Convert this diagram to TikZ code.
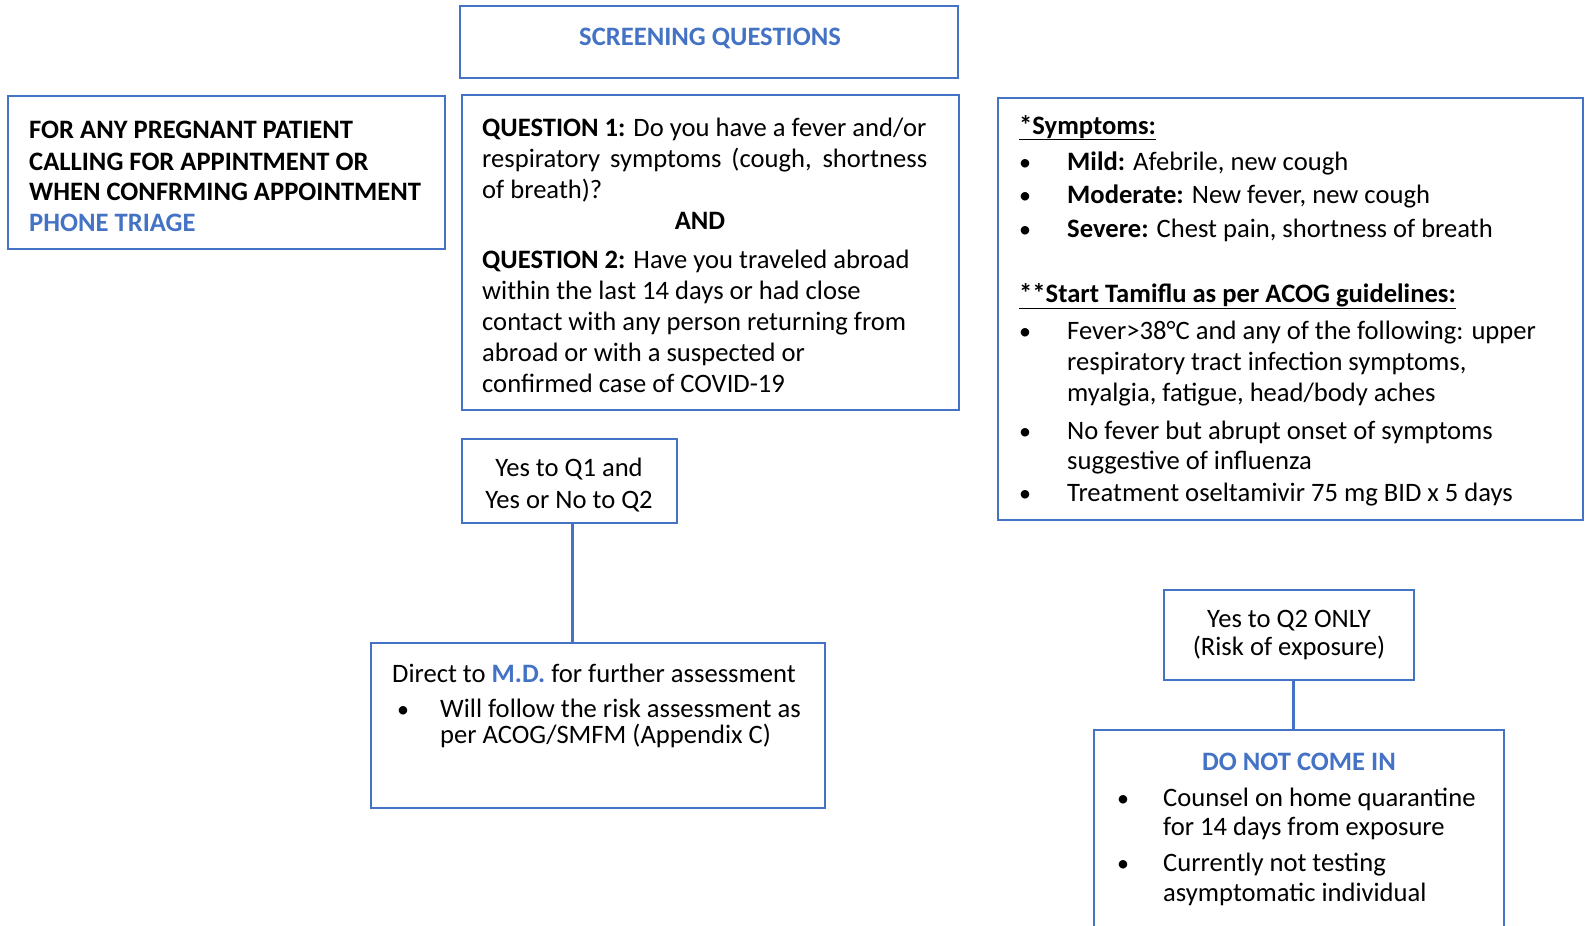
\documentclass[tikz,border=0pt]{standalone}
\usepackage{fontspec}
\setmainfont{Carlito}
\definecolor{obl}{HTML}{4472C4}
\newcommand{\fsz}{\fontsize{26.6}{32}\selectfont}
\newcommand{\bul}{{\fontsize{24}{28}\selectfont •}}
\newcommand{\ul}[1]{\underline{#1}}
\tikzset{
  box/.style={draw=obl, line width=2.6pt, rectangle, inner sep=0pt},
  link/.style={draw=obl, line width=3pt},
  ln/.style={anchor=base west, inner sep=0pt, font=\fsz},
  lc/.style={anchor=base, inner sep=0pt, font=\fsz},
  bt/.style={anchor=base west, inner sep=0pt, font=\fsz\bfseries, text=obl},
}
\begin{document}
\begin{tikzpicture}[x=1pt,y=-1pt]
\useasboundingbox (0,0) rectangle (1585,926);
\clip (0,0) rectangle (1585,926);
% boxes
\node[box, minimum width=498pt, minimum height=72pt] (scr) at (709,42) {};
\node[box, minimum width=437pt, minimum height=153pt] (triage) at (226.5,172.5) {};
\node[box, minimum width=497pt, minimum height=315pt] (qbox) at (710.5,252.5) {};
\node[box, minimum width=585pt, minimum height=422pt] (sym) at (1290.5,309) {};
\node[box, minimum width=215pt, minimum height=84pt] (yq1) at (569.5,481) {};
\node[box, minimum width=454pt, minimum height=165pt] (direct) at (598,725.5) {};
\node[box, minimum width=250pt, minimum height=90pt] (yq2) at (1289,635) {};
\node[box, minimum width=410pt, minimum height=230pt] (donot) at (1299,845) {};
% connectors
\draw[link] ([xshift=2.5pt]yq1.south) -- ([xshift=2.5pt]yq1.south |- direct.north);
\draw[link] ([xshift=4pt]yq2.south) -- ([xshift=4pt]yq2.south |- donot.north);
\begin{scope}[yshift=-2pt]
% screening title
\node[bt, anchor=base] (scrt) at (710,43) {SCREENING QUESTIONS};
% triage
\node[ln, font=\fsz\bfseries] (t1) at (29,136) {FOR ANY PREGNANT PATIENT};
\node[ln, font=\fsz\bfseries] (t2) at (29,168) {CALLING FOR APPINTMENT OR};
\node[ln, font=\fsz\bfseries] (t3) at (29,198) {WHEN CONFRMING APPOINTMENT};
\node[bt] (t4) at (29,229) {PHONE TRIAGE};
% questions
\node[ln] (q1) at (482,134) {\textbf{QUESTION 1:} Do you have a fever and/or};
\node[ln] (q2) at (482,165) {\makebox[445pt][s]{respiratory symptoms (cough, shortness}};
\node[ln] (q3) at (482,196) {of breath)?};
\node[lc, font=\fsz\bfseries] (qand) at (700,227) {AND};
\node[ln] (q4) at (482,266) {\textbf{QUESTION 2:} Have you traveled abroad};
\node[ln] (q5) at (482,297) {within the last 14 days or had close};
\node[ln] (q6) at (482,328) {contact with any person returning from};
\node[ln] (q7) at (482,359) {abroad or with a suspected or};
\node[ln] (q8) at (482,390) {confirmed case of COVID-19};
% symptoms
\node[ln] (s0) at (1019,132) {\textbf{\ul{*Symptoms:}}};
\node[ln] (sb1) at (1019,168) {\bul};
\node[ln] (s1) at (1067,168) {\textbf{Mild:} Afebrile, new cough};
\node[ln] (sb2) at (1019,201) {\bul};
\node[ln] (s2) at (1067,201) {\textbf{Moderate:} New fever, new cough};
\node[ln] (sb3) at (1019,235) {\bul};
\node[ln] (s3) at (1067,235) {\textbf{Severe:} Chest pain, shortness of breath};
\node[ln] (s4) at (1019,300) {\textbf{\ul{**Start Tamiflu as per ACOG guidelines:}}};
\node[ln] (sb5) at (1019,337) {\bul};
\node[ln] (s5) at (1067,337) {Fever>38°C and any of the following: upper};
\node[ln] (s6) at (1067,368) {respiratory tract infection symptoms,};
\node[ln] (s7) at (1067,399) {myalgia, fatigue, head/body aches};
\node[ln] (sb8) at (1019,437) {\bul};
\node[ln] (s8) at (1067,437) {No fever but abrupt onset of symptoms};
\node[ln] (s9) at (1067,467) {suggestive of influenza};
\node[ln] (sb10) at (1019,499) {\bul};
\node[ln] (s10) at (1067,499) {Treatment oseltamivir 75 mg BID x 5 days};
% yes q1
\node[lc] (y1a) at (569,474) {Yes to Q1 and};
\node[lc] (y1b) at (569,506) {Yes or No to Q2};
% direct
\node[ln] (d1) at (392,680) {Direct to \textcolor{obl}{\textbf{M.D.}} for further assessment};
\node[ln] (db1) at (397,715) {\bul};
\node[ln] (d2) at (440,715) {Will follow the risk assessment as};
\node[ln] (d3) at (440,741) {per ACOG/SMFM (Appendix C)};
% yes q2
\node[lc] (y2a) at (1289,625) {Yes to Q2 ONLY};
\node[lc] (y2b) at (1289,653) {(Risk of exposure)};
% do not come in
\node[bt, anchor=base] (n0) at (1299,768) {DO NOT COME IN};
\node[ln] (nb1) at (1117,804) {\bul};
\node[ln] (n1) at (1163,804) {Counsel on home quarantine};
\node[ln] (n2) at (1163,833) {for 14 days from exposure};
\node[ln] (nb2) at (1117,869) {\bul};
\node[ln] (n3) at (1163,869) {Currently not testing};
\node[ln] (n4) at (1163,899) {asymptomatic individual};
\end{scope}
\end{tikzpicture}
\end{document}
